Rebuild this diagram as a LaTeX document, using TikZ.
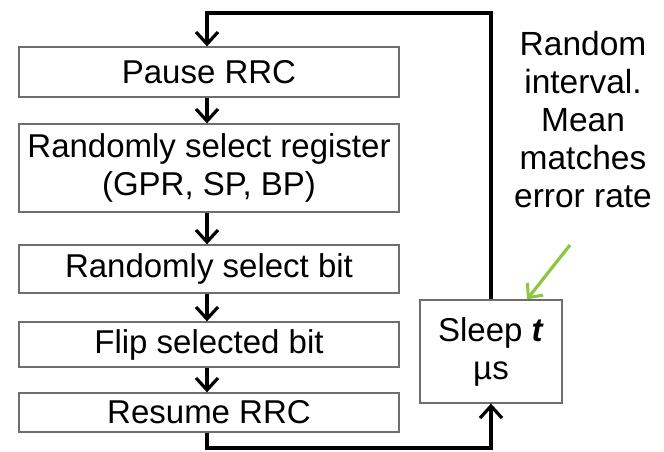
\documentclass[tikz,border=0pt]{standalone}
\usepackage{fontspec}
\setmainfont{Liberation Sans}
\usetikzlibrary{arrows.meta}
\definecolor{boxgray}{RGB}{110,110,110}
\definecolor{lime}{RGB}{141,198,63}
\begin{document}
\begin{tikzpicture}[x=1pt,y=-1pt,
  box/.style={draw=boxgray,line width=1.3pt,fill=white,minimum width=380pt,inner sep=0pt,align=center,font=\fontsize{33}{38}\selectfont},
  flow/.style={line width=3.6pt,-{Straight Barb[length=12pt,width=22pt,line width=3.2pt]}},
  note/.style={align=center,font=\fontsize{33.5}{38}\selectfont},
  garrow/.style={draw=lime,line width=3.2pt,-{Straight Barb[length=11pt,width=20pt,line width=3pt]}}]
\useasboundingbox[fill=white] (0,0) rectangle (664,451);
\node[box,minimum height=50pt] (pause) at (209,72) {Pause RRC};
\node[box,minimum height=88pt] (reg) at (209,168) {Randomly select register\\(GPR, SP, BP)};
\node[box,minimum height=48pt] (bit) at (209,269) {Randomly select bit};
\node[box,minimum height=45pt] (flip) at (209,344.5) {Flip selected bit};
\node[box,minimum height=39pt] (resume) at (209,412.5) {Resume RRC};
\node[box,minimum width=142pt,minimum height=103pt] (sleep) at (491,351.5) {Sleep \textbf{\textit{t}}\\µs};
\node[note] (txt) at (583,120) {Random\\interval.\\Mean\\matches\\error rate};
\coordinate (tl) at (207,13);
\coordinate (tr) at (491,13);
\coordinate (bl) at (207,448);
\coordinate (br) at (491,448);
\draw[flow] (sleep.north) -- (tr) -- (tl) -- (pause.north -| tl);
\draw[flow] (pause.south -| tl) -- (reg.north -| tl);
\draw[flow] (reg.south -| tl) -- (bit.north -| tl);
\draw[flow] (bit.south -| tl) -- (flip.north -| tl);
\draw[flow] (flip.south -| tl) -- (resume.north -| tl);
\draw[flow] (resume.south -| bl) -- (bl) -- (br) -- (sleep.south);
\coordinate (g0) at (570,245);
\draw[garrow] (g0) -- ([xshift=36pt]sleep.north);
\end{tikzpicture}
\end{document}
